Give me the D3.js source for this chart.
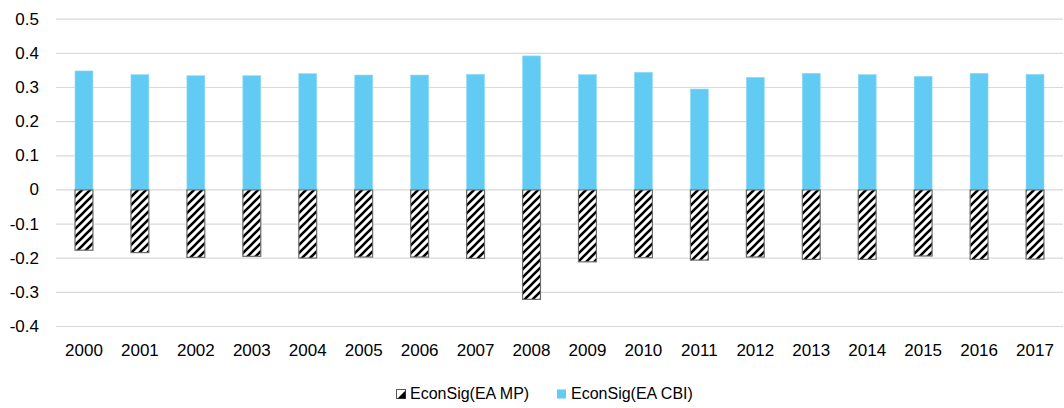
<!DOCTYPE html>
<html>
<head>
<meta charset="utf-8">
<script src="https://cdn.jsdelivr.net/npm/d3@7"></script>
<style>
  html, body { margin: 0; padding: 0; background: #fff; }
  svg { display: block; }
</style>
</head>
<body>
<svg id="chart" width="1064" height="408"></svg>
<script>
const years = ["2000","2001","2002","2003","2004","2005","2006","2007","2008","2009","2010","2011","2012","2013","2014","2015","2016","2017"];
const mpValues = [-0.178,-0.185,-0.199,-0.196,-0.201,-0.198,-0.198,-0.202,-0.322,-0.212,-0.200,-0.207,-0.198,-0.205,-0.205,-0.195,-0.205,-0.204];
const cbiValues = [0.347,0.336,0.333,0.333,0.339,0.335,0.335,0.337,0.391,0.336,0.343,0.294,0.328,0.340,0.336,0.331,0.340,0.337];
const yTicks = [-0.4,-0.3,-0.2,-0.1,0,0.1,0.2,0.3,0.4,0.5];
const seriesNames = ["EconSig(EA MP)", "EconSig(EA CBI)"];

const svg = d3.select("#chart");
const font = "'Liberation Sans', Arial, sans-serif";
const pLeft = 56, pRight = 1063, pTop = 18.7, pBottom = 326;

const x = d3.scaleBand().domain(years).range([pLeft, pRight]).paddingInner(0.68).paddingOuter(0.34);
const y = d3.scaleLinear().domain([-0.4, 0.5]).range([pBottom, pTop]);

const defs = svg.append("defs");
const pat = defs.append("pattern").attr("id", "hatch")
  .attr("patternUnits", "userSpaceOnUse").attr("width", 8).attr("height", 8);
pat.append("rect").attr("width", 8).attr("height", 8).attr("fill", "#fff");
pat.append("path").attr("d", "M-2,2 L2,-2 M0,8 L8,0 M6,10 L10,6")
  .attr("stroke", "#000").attr("stroke-width", 2.6);

// gridlines
const yAxis = d3.axisLeft(y).tickValues(yTicks).tickSize(-(pRight - pLeft)).tickPadding(17)
  .tickFormat(d => d === 0 ? "0" : String(+d.toFixed(1)));
const gy = svg.append("g").attr("transform", `translate(${pLeft},0)`).call(yAxis);
gy.select(".domain").remove();
gy.selectAll(".tick line").attr("stroke", "#d9d9d9").attr("stroke-width", 1.2);
gy.selectAll(".tick text").attr("font-family", font).attr("font-size", 17).attr("fill", "#000");

// CBI bars
svg.append("g").selectAll("rect").data(years).join("rect")
  .attr("x", d => x(d)).attr("width", x.bandwidth())
  .attr("y", (d, i) => y(cbiValues[i])).attr("height", (d, i) => y(0) - y(cbiValues[i]))
  .attr("fill", "#61cbf3").attr("stroke", "#8fdaf6").attr("stroke-width", 0.6);

// MP bars
svg.append("g").selectAll("rect").data(years).join("rect")
  .attr("x", d => x(d)).attr("width", x.bandwidth())
  .attr("y", y(0) + 0.5).attr("height", (d, i) => y(mpValues[i]) - y(0) - 0.5)
  .attr("fill", "url(#hatch)").attr("stroke", "#6b6b6b").attr("stroke-width", 1.2);

// x axis labels
const xAxis = d3.axisBottom(x).tickSize(0).tickPadding(0);
const gx = svg.append("g").attr("transform", `translate(0,${pBottom + 18})`).call(xAxis);
gx.select(".domain").remove();
gx.selectAll(".tick text").attr("font-family", font).attr("font-size", 17).attr("fill", "#000");

// legend
const lg = svg.append("g");
const items = [
  { name: seriesNames[0], x: 396 },
  { name: seriesNames[1], x: 557 }
];
const li = lg.selectAll("g").data(items).join("g")
  .attr("transform", d => `translate(${d.x},389)`);
li.each(function(d, i) {
  const g = d3.select(this);
  if (i === 0) {
    g.append("rect").attr("x", 0.5).attr("y", 0.5).attr("width", 9).attr("height", 9)
      .attr("fill", "#fff").attr("stroke", "#595959").attr("stroke-width", 1);
    g.append("path").attr("d", "M9.5,1.5 L9.5,9.5 L1.5,9.5 Z").attr("fill", "#000");
  } else {
    g.append("rect").attr("x", 0).attr("y", 0.5).attr("width", 9).attr("height", 9).attr("fill", "#61cbf3");
  }
  g.append("text").attr("x", 14).attr("y", 10).attr("font-family", font)
    .attr("font-size", 16).attr("fill", "#000").text(d.name);
});
</script>
</body>
</html>
